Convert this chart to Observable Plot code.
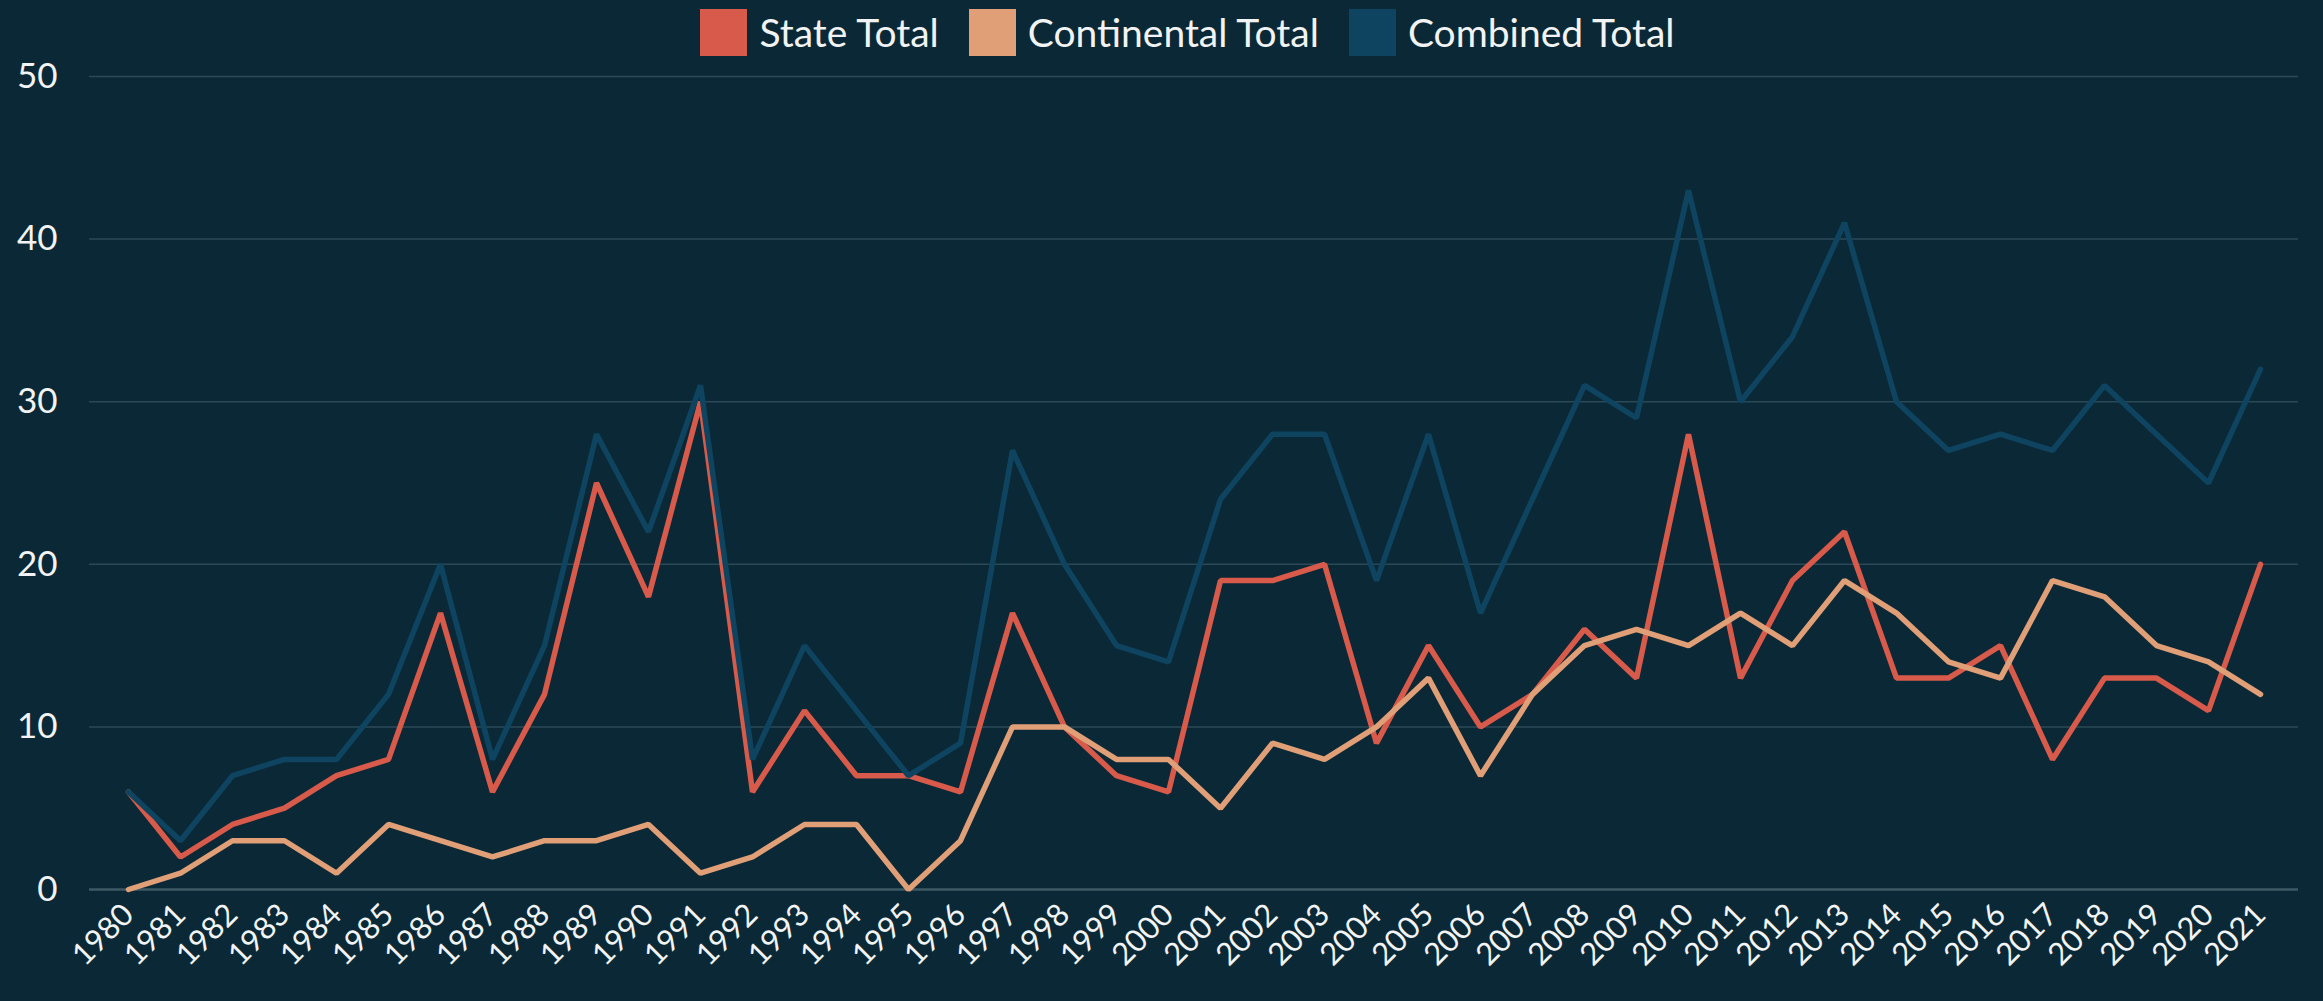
<!DOCTYPE html>
<html>
<head>
<meta charset="utf-8">
<script src="https://cdn.jsdelivr.net/npm/d3@7"></script>
<script src="https://cdn.jsdelivr.net/npm/@observablehq/plot@0.6"></script>
<style>
  html, body { margin: 0; padding: 0; background: #0b2836; }
  body { width: 2323px; height: 1001px; overflow: hidden; font-family: Lato, "Open Sans", sans-serif; color: #f1f3f4; }
  #legend { height: 56px; display: flex; justify-content: center; align-items: center; padding-left: 52px; padding-top: 8px; box-sizing: border-box; }
  .item { display: flex; align-items: center; margin: 0 15px; font-size: 39px; }
  .sw { width: 47px; height: 47px; margin-right: 12px; }
  #chart svg { display: block; overflow: visible; }
</style>
</head>
<body>
<div id="legend"></div>
<div id="chart"></div>
<script>
const years = ["1980","1981","1982","1983","1984","1985","1986","1987","1988","1989","1990","1991","1992","1993","1994","1995","1996","1997","1998","1999","2000","2001","2002","2003","2004","2005","2006","2007","2008","2009","2010","2011","2012","2013","2014","2015","2016","2017","2018","2019","2020","2021"];
const stateTotal       = [6,2,4,5,7,8,17,6,12,25,18,30,6,11,7,7,6,17,10,7,6,19,19,20,9,15,10,12,16,13,28,13,19,22,13,13,15,8,13,13,11,20];
const continentalTotal = [0,1,3,3,1,4,3,2,3,3,4,1,2,4,4,0,3,10,10,8,8,5,9,8,10,13,7,12,15,16,15,17,15,19,17,14,13,19,18,15,14,12];
const combinedTotal    = [6,3,7,8,8,12,20,8,15,28,22,31,8,15,11,7,9,27,20,15,14,24,28,28,19,28,17,24,31,29,43,30,34,41,30,27,28,27,31,28,25,32];
const seriesNames = ["State Total", "Continental Total", "Combined Total"];
const seriesColors = ["#d85a4a", "#e09f77", "#0e4460"];
const yTicks = [0, 10, 20, 30, 40, 50];

const seriesValues = [stateTotal, continentalTotal, combinedTotal];
const rows = [];
seriesNames.forEach((name, s) => {
  years.forEach((yr, i) => rows.push({year: yr, value: seriesValues[s][i], series: name}));
});

// legend
const legend = document.getElementById("legend");
seriesNames.forEach((name, i) => {
  const it = document.createElement("div");
  it.className = "item";
  const sw = document.createElement("span");
  sw.className = "sw";
  sw.style.background = seriesColors[i];
  const tx = document.createElement("span");
  tx.textContent = name;
  it.appendChild(sw); it.appendChild(tx);
  legend.appendChild(it);
});

const chart = Plot.plot({
  width: 2323,
  height: 945,
  marginTop: 20,
  marginBottom: 112,
  marginLeft: 89,
  marginRight: 25,
  style: { background: "transparent", color: "#f1f3f4", fontFamily: "Lato, 'Open Sans', sans-serif", overflow: "visible" },
  x: { type: "point", domain: years, padding: 0.5, label: null },
  y: { domain: [0, 50], label: null },
  color: { domain: seriesNames, range: seriesColors },
  marks: [
    Plot.gridY(yTicks.filter(d => d > 0), { stroke: "#2b4856", strokeOpacity: 1, strokeWidth: 1.5 }),
    Plot.ruleY([0], { stroke: "#3d5965", strokeWidth: 2.5 }),
    Plot.axisY({ ticks: yTicks, tickSize: 0, tickPadding: 32, fontSize: 35, label: null }),
    Plot.axisX({ tickSize: 0, tickRotate: -45, tickPadding: 20, fontSize: 31, label: null }),
    ...seriesNames.map(name => Plot.line(rows.filter(r => r.series === name), {
      x: "year", y: "value", stroke: "series", strokeWidth: 5.5,
      strokeLinecap: "round", strokeLinejoin: "miter"
    }))
  ]
});
document.getElementById("chart").appendChild(chart);
</script>
</body>
</html>
